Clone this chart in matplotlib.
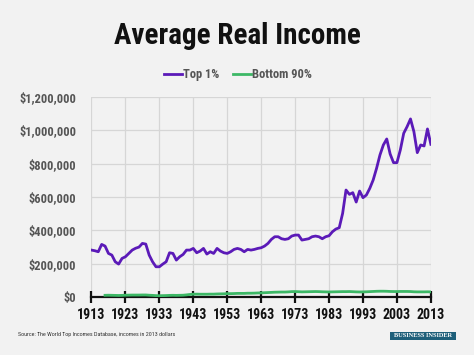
import matplotlib
matplotlib.use("Agg")
import matplotlib.pyplot as plt
from matplotlib.patches import Rectangle

# -------- data --------
years = list(range(1913, 2014))

top1 = [282000, 278000, 272000, 316000, 306000, 262000, 252000, 212000, 198000, 232000,
        242000, 262000, 282000, 293000, 300000, 322000, 318000, 252000, 212000, 182000,
        182000, 198000, 212000, 266000, 262000, 222000, 242000, 256000, 282000, 282000,
        292000, 266000, 276000, 292000, 258000, 272000, 262000, 292000, 276000, 266000,
        262000, 272000, 286000, 292000, 286000, 272000, 286000, 282000, 286000, 292000,
        296000, 306000, 322000, 346000, 362000, 362000, 350000, 346000, 350000, 366000,
        372000, 372000, 342000, 346000, 350000, 362000, 366000, 362000, 350000, 362000,
        368000, 392000, 408000, 416000, 502000, 642000, 616000, 626000, 570000, 636000,
        596000, 612000, 652000, 702000, 772000, 852000, 912000, 948000, 858000, 806000,
        806000, 882000, 982000, 1022000, 1068000, 992000, 866000, 912000, 906000, 1008000,
        916000]

bottom_years = list(range(1917, 2014))
bottom90 = [11000, 11500, 11000, 10500, 10000, 10500, 11500, 12000, 12500, 12500,
            12500, 13000, 13000, 11500, 10500, 9000, 8500, 9000, 9500, 10500,
            11000, 10500, 11000, 11500, 13500, 16000, 17500, 18000, 17500, 17500,
            17500, 18000, 18000, 19000, 19500, 20000, 21000, 21000, 21500, 22500,
            22500, 22500, 23500, 23500, 24000, 25000, 25500, 26500, 27500, 28500,
            29500, 30000, 30500, 30500, 31500, 33000, 33500, 32500, 31500, 32000,
            32500, 33000, 33500, 33000, 32000, 31500, 31000, 31500, 32000, 32500,
            33000, 33000, 33500, 32500, 31500, 31000, 31500, 32000, 33000, 34000,
            35000, 35500, 35500, 35000, 34000, 33500, 33500, 34000, 34000, 34000,
            33500, 32000, 31500, 31500, 31500, 32000, 31500]

xticks = list(range(1913, 2014, 10))
yticks = [0, 200000, 400000, 600000, 800000, 1000000, 1200000]

# -------- style --------
plt.rcParams["font.family"] = ["Roboto Condensed", "DejaVu Sans"]

bg = "#f2f2f2"
purple = "#5b1ab8"
green = "#3db866"

fig = plt.figure(figsize=(4.74, 3.55), dpi=100, facecolor=bg)
ax = fig.add_axes([0.193, 0.163, 0.716, 0.564], facecolor=bg)

ax.plot(years, top1, color=purple, lw=2.0, label="Top 1%", zorder=3)
ax.plot(bottom_years, bottom90, color=green, lw=2.0, label="Bottom 90%", zorder=3)

ax.set_xlim(1913, 2013)
ax.set_ylim(0, 1200000)
ax.set_xticks(xticks)
ax.set_yticks(yticks)
ax.set_yticklabels(["$0" if v == 0 else f"${v:,.0f}" for v in yticks])
ax.grid(True, color="#d6d6d6", lw=0.9, zorder=0)

for s in ["top", "right", "left"]:
    ax.spines[s].set_visible(False)
ax.spines["bottom"].set_color("#111111")
ax.spines["bottom"].set_linewidth(1.6)
ax.spines["bottom"].set_zorder(2)

ax.tick_params(axis="x", direction="inout", length=8, width=1.6, color="#111111",
               pad=4, labelsize=10, labelcolor="#111111")
ax.tick_params(axis="y", length=0, pad=11, labelsize=9, labelcolor="#555555")
for lbl in ax.get_xticklabels() + ax.get_yticklabels():
    lbl.set_fontweight("bold")

fig.text(0.5, 0.898, "Average Real Income", ha="center", va="center",
         fontsize=21, fontweight="bold", color="#111111")

leg = ax.legend(loc="center", bbox_to_anchor=(0.431, 1.11), ncol=2, frameon=False,
                handlelength=1.45, handletextpad=0.05, columnspacing=1.1,
                prop={"size": 9, "weight": "bold"})
for t in leg.get_texts():
    t.set_color("#555555")

fig.text(0.038, 0.059, "Source: The World Top Incomes Database, incomes in 2013 dollars",
         fontsize=4.3, color="#333333", va="center")

# Business Insider logo box
fig.patches.append(Rectangle((390 / 474, 1 - 339.5 / 355), 66 / 474, 8 / 355,
                             transform=fig.transFigure, fc="#1e5f7a", ec="none"))
fig.text(423 / 474, 1 - 335.5 / 355, "BUSINESS INSIDER", fontsize=4.6, color="white",
         va="center", ha="center", family="Liberation Serif", fontweight="bold")

fig.savefig("out.png", dpi=100, facecolor=bg)
